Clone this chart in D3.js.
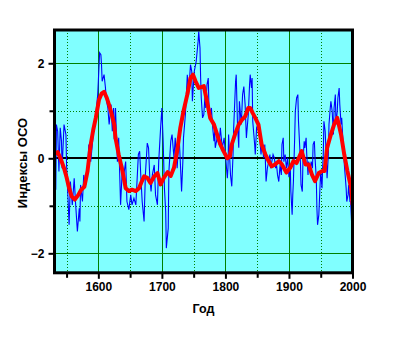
<!DOCTYPE html>
<html>
<head>
<meta charset="utf-8">
<script src="https://cdn.jsdelivr.net/npm/d3@7/dist/d3.min.js"></script>
<style>
  html, body { margin: 0; padding: 0; background: #ffffff; }
  svg { display: block; }
  text { font-family: "Liberation Sans", Arial, sans-serif; font-weight: bold; fill: #000; }
</style>
</head>
<body>
<svg id="chart" width="394" height="338"></svg>
<script>
// Annual OCO index (thin blue line)
const annualYears = [1531,1532,1533,1534,1536,1538,1540,1542,1543,1546,1549,1550,1554,1556,1559,1562,1564,1567,1570,1571,1572,1575,1577,1580,1583,1585,1588,1591,1593,1596,1599,1600,1602,1604,1605,1606,1609,1611,1613,1615,1617,1620,1622,1624,1625,1627,1630,1632,1635,1638,1640,1643,1645,1648,1651,1653,1656,1659,1663,1665,1667,1669,1672,1674,1677,1679,1681,1683,1685,1688,1690,1693,1695,1698,1700,1702,1704,1706,1707,1710,1711,1714,1716,1719,1721,1724,1727,1729,1731,1733,1734,1737,1740,1742,1745,1747,1748,1750,1751,1754,1757,1758,1760,1761,1762,1764,1766,1768,1769,1771,1773,1774,1777,1778,1780,1782,1783,1784,1787,1790,1792,1795,1798,1800,1803,1804,1805,1807,1808,1810,1812,1813,1816,1817,1819,1821,1822,1825,1827,1829,1831,1833,1836,1838,1839,1841,1842,1843,1846,1847,1849,1851,1852,1854,1856,1858,1860,1862,1864,1866,1868,1870,1871,1873,1875,1877,1879,1880,1882,1884,1886,1888,1889,1891,1892,1894,1896,1898,1900,1902,1903,1905,1906,1907,1909,1910,1912,1914,1915,1917,1918,1919,1921,1922,1924,1925,1927,1928,1930,1931,1933,1935,1937,1938,1940,1941,1943,1944,1945,1947,1949,1950,1952,1953,1954,1955,1957,1959,1960,1962,1963,1965,1966,1968,1970,1971,1973,1974,1976,1977,1979,1980,1982,1983,1985,1986,1988,1990,1991,1993,1994,1996,1997,1998,1999,2000];
const annualValues = [0.10,0.55,-0.66,0.71,0.57,-0.28,0.64,0.36,-0.21,0.71,0.50,-0.14,-1.40,-0.49,-0.98,-0.42,-0.91,-1.54,-1.05,-1.33,-0.56,-0.91,-0.35,-0.56,-0.21,0.29,-0.07,0.36,0.64,0.92,1.34,1.62,2.22,2.18,1.97,1.62,1.76,1.51,1.20,1.06,0.71,1.13,0.57,1.06,0.40,1.06,-0.07,0.43,-0.98,-0.14,-0.35,-0.07,-0.91,-1.08,-0.77,-0.98,-0.84,-0.98,0.08,0.15,-0.42,-0.91,-1.33,-0.35,0.32,0.22,-0.42,-0.70,-0.35,-0.14,-0.77,-0.98,-0.07,0.64,1.06,0.36,-0.63,-1.12,-1.89,-1.47,-0.28,0.36,0.50,0.01,0.43,-0.21,0.50,-0.07,-0.70,-0.07,0.43,0.92,1.76,1.34,1.97,1.83,1.20,1.62,1.83,2.04,2.46,2.67,2.32,1.69,1.27,0.85,0.92,1.34,1.06,1.55,1.69,1.13,0.92,1.06,0.64,0.36,0.57,0.22,0.43,0.29,0.64,0.22,0.43,0.08,-0.42,-0.21,0.50,-0.07,-0.35,-0.59,0.08,0.64,1.62,1.76,0.71,0.22,1.20,0.71,1.34,1.51,1.13,0.43,0.92,1.55,1.76,1.48,1.69,0.78,0.29,0.08,0.64,0.71,0.57,0.43,0.08,0.36,0.01,0.29,-0.49,-0.21,-0.07,0.08,-0.21,-0.07,0.08,0.01,-0.21,-0.07,-0.35,-0.49,-0.14,-0.35,0.29,0.43,-0.07,0.08,-0.21,0.01,-0.40,-0.14,-0.70,-1.19,-0.77,-0.49,0.43,0.99,1.27,1.34,0.78,0.22,-0.07,-0.56,-0.70,-0.07,0.36,0.22,0.43,0.08,-0.35,-0.07,-0.28,-0.07,-0.21,0.29,0.36,0.01,-0.42,-1.05,-1.40,-1.19,-0.56,-0.28,-0.63,-0.21,0.08,0.78,0.57,-0.07,-0.42,0.08,0.71,1.06,1.20,0.99,0.50,1.06,1.34,0.71,0.99,1.27,1.48,1.13,0.71,0.85,0.36,0.08,-0.28,-0.63,-0.91,-0.77,-0.56,-0.91,-0.91,-1.19,-1.47,-1.68];

// Smoothed OCO index (thick red line)
const smoothYears = [1531,1536,1541,1546,1550,1554,1558,1563,1568,1573,1578,1583,1588,1592,1596,1601,1605,1609,1613,1617,1620,1625,1627,1632,1638,1643,1648,1653,1659,1664,1668,1672,1677,1682,1688,1693,1698,1703,1709,1714,1719,1724,1729,1734,1740,1745,1749,1753,1758,1762,1766,1771,1776,1782,1787,1792,1797,1803,1807,1810,1815,1821,1826,1831,1836,1839,1843,1847,1852,1857,1863,1868,1873,1878,1884,1889,1896,1902,1907,1912,1920,1926,1931,1936,1941,1947,1952,1956,1960,1966,1971,1976,1982,1987,1992,1998,2000];
const smoothValues = [0.09,0.13,-0.02,-0.21,-0.40,-0.63,-0.80,-0.87,-0.78,-0.66,-0.60,-0.27,0.29,0.60,0.85,1.23,1.36,1.40,1.28,1.12,0.98,0.71,0.43,0.08,-0.27,-0.63,-0.69,-0.66,-0.69,-0.63,-0.50,-0.38,-0.41,-0.52,-0.38,-0.31,-0.55,-0.41,-0.29,-0.37,-0.20,0.15,0.64,0.99,1.34,1.69,1.76,1.62,1.48,1.50,1.52,1.20,0.85,0.71,0.50,0.29,0.15,0.00,0.04,0.29,0.50,0.71,0.81,0.88,1.06,1.06,0.95,0.85,0.71,0.29,0.08,-0.06,-0.17,-0.13,-0.06,-0.13,-0.30,-0.20,-0.06,-0.10,0.15,-0.13,-0.13,-0.34,-0.48,-0.31,-0.27,-0.27,0.22,0.50,0.71,0.85,0.50,0.08,-0.27,-0.63,-0.98];

// Axis ticks and grid
const xMajorTicks = [1600, 1700, 1800, 1900, 2000];
const xMinorTicks = [1550, 1650, 1750, 1850, 1950];
const yLabelTicks = [-2, 0, 2];
const yMinorTicks = [-1, 1];
const xTitle = "Год";
const yTitle = "Индексы ОСО";

const svg = d3.select("#chart");
const plotLeft = 54.5, plotRight = 352.5, plotTop = 30, plotBottom = 272.8;

const x = d3.scaleLinear().domain([1531, 2000]).range([plotLeft, plotRight]);
const y = d3.scaleLinear().domain([-2.41, 2.70]).range([plotBottom, plotTop]);

// plot background
svg.append("rect")
  .attr("x", plotLeft).attr("y", plotTop)
  .attr("width", plotRight - plotLeft).attr("height", plotBottom - plotTop)
  .attr("fill", "#80ffff");

const grid = svg.append("g").attr("shape-rendering", "crispEdges");
// solid grid lines at major positions
grid.selectAll("line.vmaj").data(xMajorTicks.filter(d => d < 2000)).join("line")
  .attr("x1", d => Math.round(x(d)) + 0.5).attr("x2", d => Math.round(x(d)) + 0.5)
  .attr("y1", plotTop).attr("y2", plotBottom)
  .attr("stroke", "#008000").attr("stroke-width", 1);
grid.selectAll("line.hmaj").data([-2, 2]).join("line")
  .attr("y1", d => Math.round(y(d)) + 0.5).attr("y2", d => Math.round(y(d)) + 0.5)
  .attr("x1", plotLeft).attr("x2", plotRight)
  .attr("stroke", "#008000").attr("stroke-width", 1);
// dotted grid lines at minor positions
grid.selectAll("line.vmin").data(xMinorTicks).join("line")
  .attr("x1", d => Math.round(x(d)) + 0.5).attr("x2", d => Math.round(x(d)) + 0.5)
  .attr("y1", plotTop).attr("y2", plotBottom)
  .attr("stroke", "#008000").attr("stroke-width", 1).attr("stroke-dasharray", "1,2");
grid.selectAll("line.hmin").data(yMinorTicks).join("line")
  .attr("y1", d => Math.round(y(d)) + 0.5).attr("y2", d => Math.round(y(d)) + 0.5)
  .attr("x1", plotLeft).attr("x2", plotRight)
  .attr("stroke", "#008000").attr("stroke-width", 1).attr("stroke-dasharray", "1,2");

// zero line
svg.append("line")
  .attr("x1", plotLeft).attr("x2", plotRight)
  .attr("y1", y(0)).attr("y2", y(0))
  .attr("stroke", "#000").attr("stroke-width", 2).attr("shape-rendering", "crispEdges");

// clip for data
svg.append("clipPath").attr("id", "plotclip")
  .append("rect").attr("x", plotLeft).attr("y", plotTop)
  .attr("width", plotRight - plotLeft).attr("height", plotBottom - plotTop);

const dataG = svg.append("g").attr("clip-path", "url(#plotclip)");

const annual = annualYears.map((yr, i) => [yr, annualValues[i]]);
const smooth = smoothYears.map((yr, i) => [yr, smoothValues[i]]);

const line = d3.line().x(d => x(d[0])).y(d => y(d[1]));

dataG.append("path").datum(annual)
  .attr("d", line)
  .attr("fill", "none").attr("stroke", "#0000ff").attr("stroke-width", 1.1);

dataG.append("path").datum(smooth)
  .attr("d", line)
  .attr("fill", "none").attr("stroke", "#ff0000").attr("stroke-width", 4)
  .attr("stroke-linejoin", "round");

// frame
svg.append("rect")
  .attr("x", plotLeft).attr("y", plotTop)
  .attr("width", plotRight - plotLeft).attr("height", plotBottom - plotTop)
  .attr("fill", "none").attr("stroke", "#000").attr("stroke-width", 3);

// x axis
const xAxis = d3.axisBottom(x).tickValues(xMajorTicks).tickSize(5).tickSizeOuter(0)
  .tickFormat(d3.format("d")).tickPadding(4);
const xg = svg.append("g").attr("transform", `translate(0,${plotBottom + 1})`).call(xAxis);
xg.select(".domain").remove();
xg.selectAll(".tick line").attr("stroke", "#000").attr("stroke-width", 2);
xg.selectAll(".tick text").attr("font-size", 12)
  .style("font-family", '"Liberation Sans", Arial, sans-serif').style("font-weight", "bold");

const xMinorAxis = d3.axisBottom(x).tickValues(xMinorTicks).tickSize(4).tickFormat("");
const xmg = svg.append("g").attr("transform", `translate(0,${plotBottom + 1})`).call(xMinorAxis);
xmg.select(".domain").remove();
xmg.selectAll(".tick line").attr("stroke", "#000").attr("stroke-width", 2);

// y axis
const yAxis = d3.axisLeft(y).tickValues(yLabelTicks).tickSize(5).tickSizeOuter(0)
  .tickFormat(d3.format("d")).tickPadding(4);
const yg = svg.append("g").attr("transform", `translate(${plotLeft - 1},0)`).call(yAxis);
yg.select(".domain").remove();
yg.selectAll(".tick line").attr("stroke", "#000").attr("stroke-width", 2);
yg.selectAll(".tick text").attr("font-size", 12)
  .style("font-family", '"Liberation Sans", Arial, sans-serif').style("font-weight", "bold");

const yMinorAxis = d3.axisLeft(y).tickValues(yMinorTicks).tickSize(4).tickFormat("");
const ymg = svg.append("g").attr("transform", `translate(${plotLeft - 1},0)`).call(yMinorAxis);
ymg.select(".domain").remove();
ymg.selectAll(".tick line").attr("stroke", "#000").attr("stroke-width", 2);

// axis titles
svg.append("text")
  .attr("x", (plotLeft + plotRight) / 2).attr("y", 313)
  .attr("text-anchor", "middle").attr("font-size", 12.5)
  .text(xTitle);

svg.append("text")
  .attr("transform", `translate(26.5,163) rotate(-90)`)
  .attr("text-anchor", "middle").attr("font-size", 13)
  .text(yTitle);
</script>
</body>
</html>
